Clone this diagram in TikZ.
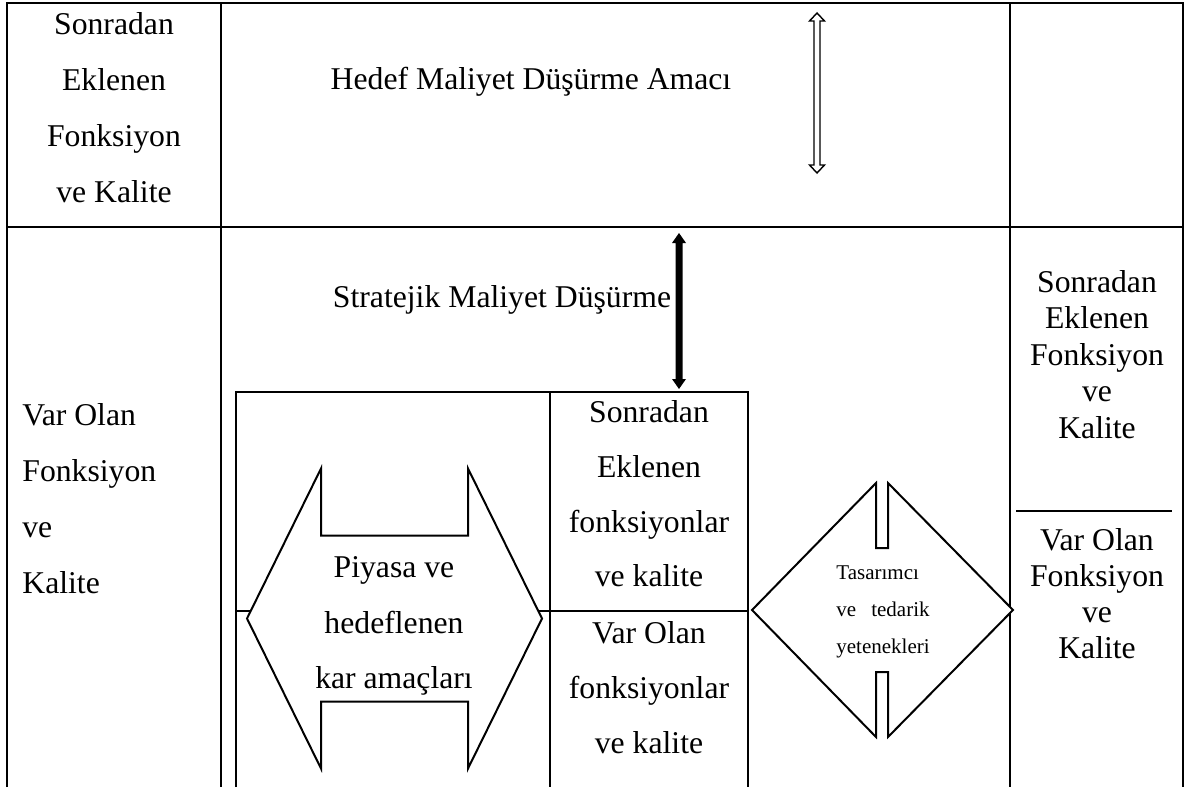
\documentclass[tikz,border=0pt]{standalone}
\usepackage{fontspec}
\setmainfont{Liberation Serif}
\begin{document}
\begin{tikzpicture}[x=0.5pt,y=-0.5pt,
  grid/.style={line width=1.2pt},
  boxline/.style={line width=1pt},
  txt/.style={font=\fontsize{15.85}{19}\selectfont, inner sep=0pt, anchor=base},
  txtl/.style={txt, anchor=base west},
  smalltxt/.style={font=\fontsize{10.5}{12}\selectfont, inner sep=0pt, anchor=base west},
  arrowshape/.style={draw, fill=white, line width=1pt, line join=miter},
  hollowarrow/.style={draw, fill=white, line width=0.7pt, line join=miter},
  solidarrow/.style={fill=black}
]
\useasboundingbox (0,0) rectangle (1187,787);

% outer table
\draw[grid] (7,787) -- (7,3) -- (1183,3) -- (1183,787);
\draw[grid] (7,227) -- (1183,227);
\draw[grid] (221,3) -- (221,787);
\draw[grid] (1010,3) -- (1010,787);

% inner box with its two halves
\draw[boxline] (236,787) -- (236,392) -- (748,392) -- (748,787);
\draw[boxline] (550,392) -- (550,787);
\draw[boxline] (236,611) -- (748,611);

% left-right arrow: market and profit targets
\draw[arrowshape] (247,618.5) -- (321,468.5) -- (321,535.5) -- (468,535.5) -- (468,468.5)
  -- (542,618.5) -- (468,768.5) -- (468,701.5) -- (321,701.5) -- (321,768.5) -- cycle;

% diamond-like left-right arrow: designer and supplier capabilities
\draw[arrowshape] (752,610) -- (876,483) -- (876,548) -- (888,548) -- (888,483)
  -- (1013,610) -- (888,737) -- (888,672) -- (876,672) -- (876,737) -- cycle;

% hollow double arrow in the top row
\draw[hollowarrow] (817,13) -- (824.5,21) -- (820,21) -- (820,165) -- (824.5,165) -- (817,173)
  -- (809.5,165) -- (814,165) -- (814,21) -- (809.5,21) -- cycle;

% solid double arrow down to the inner box
\fill[solidarrow] (679,233) -- (686,243) -- (682.5,243) -- (682.5,379) -- (686,379) -- (679,389)
  -- (672,379) -- (675.5,379) -- (675.5,243) -- (672,243) -- cycle;

% separator in the right column
\draw[line width=0.7pt] (1016,511) -- (1172,511);

% top-left cell
\node[txt] (tl1) at (114,34) {Sonradan};
\node[txt] (tl2) at (114,90) {Eklenen};
\node[txt] (tl3) at (114,146) {Fonksiyon};
\node[txt] (tl4) at (114,202) {ve Kalite};

% top-middle cell
\node[txt] (hedef) at (531,89) {Hedef Maliyet Düşürme Amacı};

% bottom-left cell
\node[txtl] (bl1) at (22,425) {Var Olan};
\node[txtl] (bl2) at (22,481) {Fonksiyon};
\node[txtl] (bl3) at (22,537) {ve};
\node[txtl] (bl4) at (22,593) {Kalite};

% bottom-middle cell
\node[txt] (strat) at (502,307) {Stratejik Maliyet Düşürme};

\node[txt] (p1) at (394,577) {Piyasa ve};
\node[txt] (p2) at (394,633) {hedeflenen};
\node[txt] (p3) at (394,688) {kar amaçları};

\node[txt] (s1) at (649,422) {Sonradan};
\node[txt] (s2) at (649,477) {Eklenen};
\node[txt] (s3) at (649,532) {fonksiyonlar};
\node[txt] (s4) at (649,586) {ve kalite};

\node[txt] (v1) at (649,643) {Var Olan};
\node[txt] (v2) at (649,698) {fonksiyonlar};
\node[txt] (v3) at (649,753) {ve kalite};

\node[smalltxt] (d1) at (836,579) {Tasarımcı};
\node[smalltxt] (d2) at (836,616) {\makebox[46.6pt][s]{ve\hfill tedarik}};
\node[smalltxt] (d3) at (836,653) {yetenekleri};

% right column
\node[txt] (r1) at (1097,292) {Sonradan};
\node[txt] (r2) at (1097,328.5) {Eklenen};
\node[txt] (r3) at (1097,365) {Fonksiyon};
\node[txt] (r4) at (1097,401.5) {ve};
\node[txt] (r5) at (1097,438) {Kalite};

\node[txt] (r6) at (1097,550) {Var Olan};
\node[txt] (r7) at (1097,586) {Fonksiyon};
\node[txt] (r8) at (1097,622) {ve};
\node[txt] (r9) at (1097,658) {Kalite};
\end{tikzpicture}
\end{document}
